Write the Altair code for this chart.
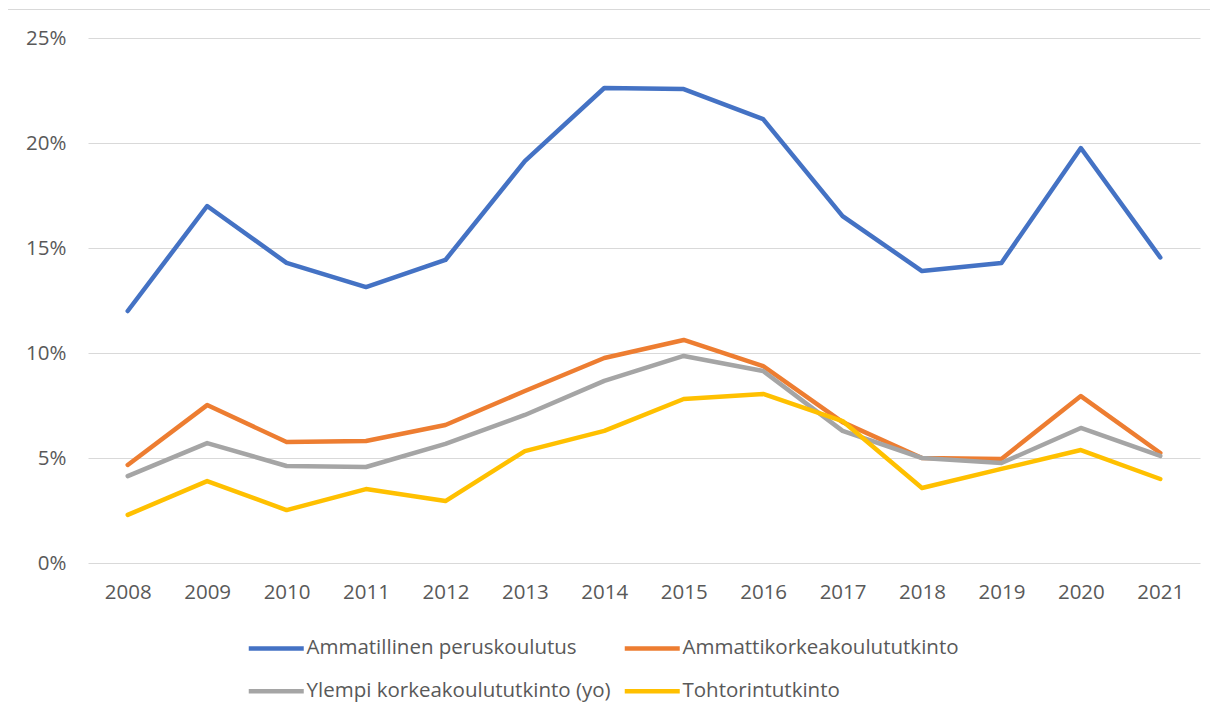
import altair as alt
import pandas as pd

years = [str(y) for y in range(2008, 2022)]
series_names = [
    "Ammatillinen peruskoulutus",
    "Ammattikorkeakoulututkinto",
    "Ylempi korkeakoulututkinto (yo)",
    "Tohtorintutkinto",
]
ammatillinen = [12.0, 17.0, 14.29, 13.14, 14.43, 19.14, 22.62, 22.57, 21.14, 16.52, 13.9, 14.29, 19.76, 14.55]
amk = [4.67, 7.52, 5.76, 5.81, 6.57, 8.19, 9.76, 10.62, 9.38, 6.71, 5.0, 4.95, 7.95, 5.24]
ylempi = [4.14, 5.71, 4.62, 4.57, 5.67, 7.05, 8.67, 9.86, 9.14, 6.29, 5.0, 4.76, 6.43, 5.1]
tohtori = [2.29, 3.9, 2.52, 3.52, 2.95, 5.33, 6.29, 7.81, 8.05, 6.76, 3.57, 4.48, 5.38, 4.0]
colors = ["#4472C4", "#ED7D31", "#A5A5A5", "#FFC000"]

rows = []
for name, vals in zip(series_names, [ammatillinen, amk, ylempi, tohtori]):
    for y, v in zip(years, vals):
        rows.append({"Vuosi": y, "Sarja": name, "Arvo": v / 100})
df = pd.DataFrame(rows)

FONT = "Open Sans"
FS = 20.5
W, H = 1112, 525

lines = alt.Chart(df).mark_line(strokeWidth=4.5, strokeJoin="round", strokeCap="round").encode(
    x=alt.X("Vuosi:O", sort=years, title=None,
            scale=alt.Scale(type="point", padding=0.5),
            axis=alt.Axis(labelAngle=0, ticks=False, domain=False, labelPadding=19,
                          labelFontSize=FS, labelColor="#595959", labelFont=FONT)),
    y=alt.Y("Arvo:Q", title=None,
            scale=alt.Scale(domain=[0, 0.25]),
            axis=alt.Axis(format=".0%", values=[0, 0.05, 0.1, 0.15, 0.2, 0.25],
                          ticks=False, domain=False, labelPadding=22,
                          labelFontSize=FS, labelColor="#595959", labelFont=FONT,
                          gridColor="#D9D9D9", gridWidth=1)),
    color=alt.Color("Sarja:N", sort=series_names,
                    scale=alt.Scale(domain=series_names, range=colors),
                    legend=alt.Legend(title=None, orient="none", legendX=156, legendY=600,
                                      direction="horizontal",
                                      columns=2, columnPadding=4, rowPadding=22,
                                      symbolType="M-1,0H9", symbolSize=121,
                                      symbolStrokeWidth=4.5, symbolOffset=0,
                                      labelFontSize=FS, labelColor="#595959", labelFont=FONT,
                                      labelLimit=500, labelOffset=42, padding=0)),
)

border_left = alt.Chart(pd.DataFrame({"a": [0]})).mark_rule(color="#D9D9D9", strokeWidth=1).encode(
    x=alt.value(-80.5), y=alt.value(-29), y2=alt.value(H + 150))
border_top = alt.Chart(pd.DataFrame({"a": [0]})).mark_rule(color="#D9D9D9", strokeWidth=1).encode(
    x=alt.value(-80.5), x2=alt.value(W + 30), y=alt.value(-28.5))

chart = alt.layer(border_left, border_top, lines).properties(
    width=W, height=H, background="white",
    autosize=alt.AutoSizeParams(type="none"),
    padding={"left": 80, "top": 30, "right": 10, "bottom": 140},
).configure_view(stroke=None)

chart.save("out.html", embed_options={"renderer": "svg", "actions": False})
